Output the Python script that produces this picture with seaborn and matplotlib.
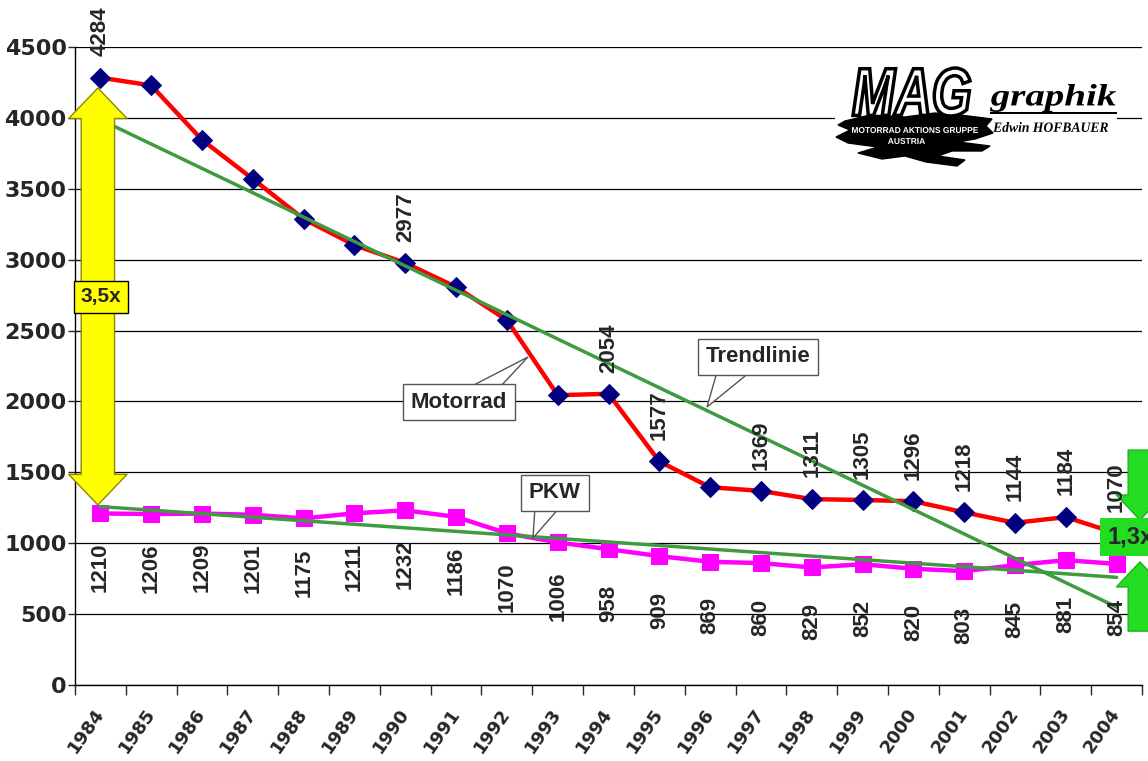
import matplotlib
matplotlib.use('Agg')
import matplotlib.pyplot as plt
import seaborn as sns
import numpy as np
import pandas as pd
from matplotlib.patches import FancyArrowPatch, PathPatch, Rectangle, Polygon
from matplotlib.textpath import TextPath
from matplotlib.font_manager import FontProperties
from matplotlib.transforms import Affine2D, IdentityTransform

years = [str(y) for y in range(1984, 2005)]
motorrad = [4284, 4229, 3845, 3569, 3287, 3103, 2977, 2807, 2574, 2044, 2054,
            1577, 1395, 1369, 1311, 1305, 1296, 1218, 1144, 1184, 1070]
pkw = [1210, 1206, 1209, 1201, 1175, 1211, 1232, 1186, 1070, 1006, 958,
       909, 869, 860, 829, 852, 820, 803, 845, 881, 854]
# only these motorrad values carry a label in the original
motorrad_labeled = ['1984', '1990', '1994', '1995', '1997', '1998', '1999',
                    '2000', '2001', '2002', '2003', '2004']

W, H = 1148, 761
GREEN = '#3f9b3f'
ARROW_GREEN = '#22dd22'

sns.set_style('white')
plt.rcParams['font.family'] = ['Liberation Sans', 'DejaVu Sans']

df = pd.DataFrame({'pos': np.arange(len(years)), 'Motorrad': motorrad, 'PKW': pkw})
df['trend_m'] = np.polyval(np.polyfit(df['pos'], df['Motorrad'], 1), df['pos'])
df['trend_p'] = np.polyval(np.polyfit(df['pos'], df['PKW'], 1), df['pos'])

fig = plt.figure(figsize=(W / 100, H / 100), dpi=100)
ax = fig.add_axes([75 / W, 1 - 685 / H, (1142 - 75) / W, (685 - 47) / H])

sns.lineplot(data=df, x='pos', y='Motorrad', ax=ax, color='red', lw=3.2,
             marker='D', ms=10, mfc='#000080', mec='#000080', zorder=3)
sns.lineplot(data=df, x='pos', y='PKW', ax=ax, color='#ff00ff', lw=3.2,
             marker='s', ms=11, mfc='#ff00ff', mec='#ff00ff', zorder=3)
sns.lineplot(data=df, x='pos', y='trend_m', ax=ax, color=GREEN, lw=2.5, zorder=4)
sns.lineplot(data=df, x='pos', y='trend_p', ax=ax, color=GREEN, lw=2.5, zorder=4)

# data labels
for i, (yr, v) in enumerate(zip(years, motorrad)):
    if yr in motorrad_labeled:
        ax.annotate(str(v), (i, v), xytext=(0, 46), textcoords='offset pixels',
                    rotation=90, ha='center', va='center', fontsize=16,
                    fontweight='bold', zorder=6)
for i, v in enumerate(pkw):
    ax.annotate(str(v), (i, v), xytext=(0, -54), textcoords='offset pixels',
                rotation=90, ha='center', va='center', fontsize=16,
                fontweight='bold', zorder=6)

# axes
ax.set_xlim(-0.5, len(years) - 0.5)
ax.set_ylim(0, 4500)
ax.set_yticks(range(0, 4501, 500))
ax.set_yticklabels([str(t) for t in range(0, 4501, 500)], fontsize=16,
                   fontweight='bold', family='DejaVu Sans')
ax.yaxis.grid(True, color='black', lw=0.9)
ax.set_xticks(range(len(years)))
ax.set_xticklabels(years, rotation=55, ha='right', va='center', rotation_mode='anchor',
                   fontsize=13, fontweight='bold', family='DejaVu Sans')
ax.set_xticks(np.arange(-0.5, len(years), 1), minor=True)
ax.tick_params(axis='x', which='major', length=0, pad=18)
ax.tick_params(axis='x', which='minor', length=7, width=1, direction='out', bottom=True)
ax.tick_params(axis='y', length=5, width=1, direction='out', left=True, pad=1)
ax.set_xlabel('')
ax.set_ylabel('')
for s in ['top', 'right']:
    ax.spines[s].set_visible(False)
for s in ['left', 'bottom']:
    ax.spines[s].set_color('black')
    ax.spines[s].set_linewidth(1)


def block_arrow(x, y_from, y_to, fc, ec, head_len, head_w, tail_w):
    ax.add_patch(FancyArrowPatch(
        (x, y_from), (x, y_to),
        arrowstyle=f'simple,head_length={head_len},head_width={head_w},tail_width={tail_w}',
        mutation_scale=1, shrinkA=0, shrinkB=0, fc=fc, ec=ec, lw=1,
        clip_on=False, zorder=5))


# yellow 3,5x arrow at 1984
block_arrow(-0.05, 2737, 4211, '#ffff00', '#8a8a00', 22, 42, 24)
block_arrow(-0.05, 2737, 1270, '#ffff00', '#8a8a00', 22, 42, 24)
ax.text(0.01, 2737, '3,5x', ha='center', va='center', fontsize=15, fontweight='bold',
        zorder=7, bbox=dict(boxstyle='square,pad=0.3', fc='#ffff00', ec='black', lw=1))

# green 1,3x arrow at 2004
block_arrow(20.46, 1657, 1164, ARROW_GREEN, '#1fb01f', 18, 34, 17)
block_arrow(20.46, 380, 868, ARROW_GREEN, '#1fb01f', 18, 34, 17)
ax.text(19.82, 1044, '1,3x', ha='left', va='center', fontsize=17, fontweight='bold',
        zorder=7, clip_on=False,
        bbox=dict(boxstyle='square,pad=0.3', fc=ARROW_GREEN, ec='none'))


# callouts: white box with a wedge pointing at the line (pixel coords, top-left origin)
def callout(text, center, base, apex):
    pts = [(base[0], H - base[2]), (base[1], H - base[2]), (apex[0], H - apex[1])]
    ax.add_patch(Polygon(pts, closed=True, fc='white', ec='#555555', lw=1,
                         transform=IdentityTransform(), clip_on=False, zorder=6.5))
    ax.text(center[0], H - center[1], text, ha='center', va='center', fontsize=16,
            fontweight='bold', transform=IdentityTransform(), zorder=7,
            bbox=dict(boxstyle='square,pad=0.35', fc='white', ec='#555555', lw=1))


callout('Motorrad', (459, 402), (470, 500, 387), (528, 357))
callout('Trendlinie', (758, 357), (717, 750, 372), (707, 407))
callout('PKW', (555, 493), (535, 560, 507), (533, 538))


# logo (pixel coordinates, origin top-left)
def fit_text(s, box, fc, ec='none', lw=0, **font):
    x0, y0, x1, y1 = box
    tp = TextPath((0, 0), s, size=10, prop=FontProperties(**font))
    ext = tp.get_extents()
    tr = (Affine2D().translate(-ext.x0, -ext.y0)
          .scale((x1 - x0) / ext.width, (y1 - y0) / ext.height)
          .translate(x0, H - y1))
    fig.add_artist(PathPatch(tr.transform_path(tp), fc=fc, ec=ec, lw=lw,
                             transform=IdentityTransform(), zorder=12))


fig.add_artist(Rectangle((835, H - 170), 282, 115, fc='white', ec='none',
                         transform=IdentityTransform(), zorder=10))
blob = [(845, 121), (870, 115), (905, 117), (935, 113), (968, 116), (992, 119),
        (986, 126), (993, 133), (975, 139), (958, 142), (990, 146), (982, 151),
        (952, 151), (938, 156), (965, 160), (957, 166), (926, 162), (905, 156),
        (882, 159), (858, 153), (878, 147), (848, 143), (836, 137), (850, 130),
        (838, 125)]
fig.add_artist(Polygon([(x, H - y) for x, y in blob], closed=True, fc='black', ec='black',
                       transform=IdentityTransform(), zorder=11))
fit_text('MAG', (853, 68, 970, 116), 'white', 'black', 2.5,
         family='Liberation Sans', weight='bold', style='italic')
fit_text('MOTORRAD AKTIONS GRUPPE', (852, 127, 978, 133), 'white',
         family='Liberation Sans', weight='bold')
fit_text('AUSTRIA', (888, 138, 925, 144), 'white',
         family='Liberation Sans', weight='bold')
fit_text('graphik', (990, 84, 1116, 112), 'black',
         family='Liberation Serif', weight='bold', style='italic')
fig.add_artist(Rectangle((990, H - 114), 127, 2, fc='black', ec='none',
                         transform=IdentityTransform(), zorder=12))
fit_text('Edwin HOFBAUER', (993, 122, 1108, 132), 'black',
         family='Liberation Serif', weight='bold', style='italic')

fig.savefig('out.png', dpi=100, facecolor='white')
